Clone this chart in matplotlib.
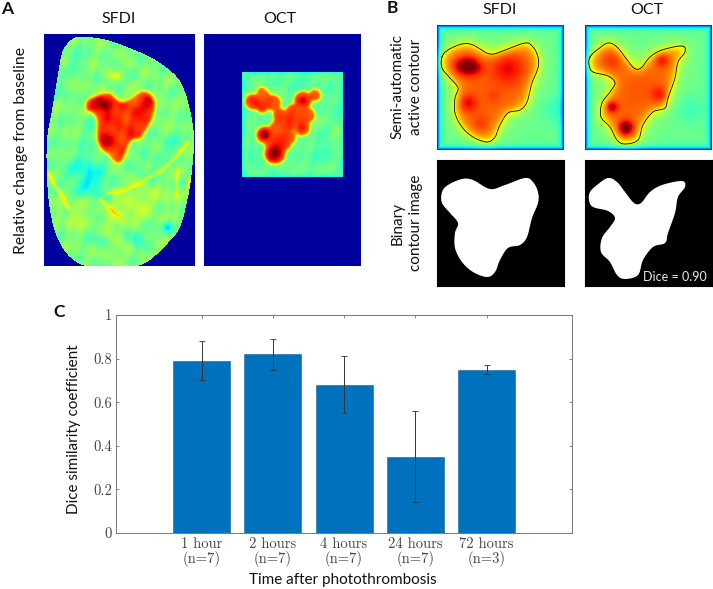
import numpy as np
import matplotlib
matplotlib.use("Agg")
import matplotlib.pyplot as plt
from matplotlib.path import Path

plt.rcParams['font.family'] = ['Lato', 'DejaVu Sans']

W, H = 713, 589

# bar chart values
times = ['1 hour\n(n=7)', '2 hours\n(n=7)', '4 hours\n(n=7)', '24 hours\n(n=7)', '72 hours\n(n=3)']
dice = [0.79, 0.82, 0.68, 0.35, 0.75]
err_low = [0.70, 0.75, 0.55, 0.14, 0.73]
err_high = [0.88, 0.89, 0.81, 0.56, 0.77]
y_ticks = [0, 0.2, 0.4, 0.6, 0.8, 1]

# outlines in figure pixels
sfdi_tissue = [(78, 37), (103, 39), (127, 47), (152, 58), (173, 73), (183, 87), (190, 110), (194, 137),
               (192, 170), (188, 197), (180, 227), (168, 243), (147, 262), (128, 267), (90, 267), (70, 257),
               (57, 237), (50, 210), (47, 177), (47, 140), (52, 110), (57, 80), (62, 53), (68, 43)]
sfdi_lesion = [(87, 100), (100, 95), (110, 93), (123, 102), (143, 91), (153, 98), (155, 110), (148, 127),
               (140, 138), (130, 142), (120, 163), (108, 155), (98, 143), (97, 123), (93, 113), (87, 110)]
oct_circles = [(253, 102, 8), (263, 98, 8), (262, 92, 5), (273, 103, 8), (262, 107, 6), (303, 100, 9), (315, 95, 6),
               (293, 112, 8), (307, 115, 8), (302, 128, 8), (283, 123, 10), (265, 135, 9), (275, 153, 11),
               (287, 137, 9), (277, 130, 9), (295, 122, 8), (272, 143, 8), (285, 145, 6), (280, 115, 7)]
contour_sfdi = [(442, 57), (448, 50), (462, 44), (473, 45), (490, 54), (505, 50), (525, 43), (533, 47),
                (538, 57), (538, 68), (532, 83), (527, 102), (520, 110), (508, 113), (500, 125), (495, 137),
                (487, 142), (473, 137), (462, 127), (455, 113), (455, 98), (458, 88), (450, 78), (442, 68)]
contour_oct = [(590, 57), (597, 50), (608, 43), (617, 47), (625, 57), (634, 68), (641, 68), (650, 57),
               (662, 50), (682, 46), (685, 52), (678, 62), (675, 78), (668, 98), (665, 108), (653, 112),
               (643, 125), (638, 140), (625, 144), (617, 140), (610, 127), (601, 117), (602, 103), (610, 92),
               (615, 83), (608, 76), (593, 72), (589, 65)]

# x, y, sigma, amount of the smooth patches in each heat map
sfdi_patches = [(105, 105, 4, 0.16), (98, 102, 5, 0.08), (148, 105, 6, 0.05), (106, 140, 6, 0.07),
                (85, 170, 14, -0.1), (93, 185, 10, -0.08), (135, 237, 7, -0.1), (100, 240, 6, -0.07),
                (110, 75, 3, 0.08), (117, 76, 2, 0.1), (170, 145, 8, -0.06), (75, 60, 8, -0.05),
                (60, 90, 5, -0.06), (168, 227, 4, -0.16), (140, 200, 14, 0.06), (165, 195, 8, 0.03),
                (120, 215, 12, 0.06), (90, 130, 8, -0.04), (150, 170, 12, -0.04), (75, 215, 10, 0.06),
                (115, 245, 10, 0.04)]
sfdi_veins = [[(187, 143), (180, 152), (172, 161), (162, 170), (150, 177), (138, 184), (125, 190), (108, 193)],
              [(48, 172), (55, 186), (62, 195), (68, 208)], [(178, 170), (176, 195)],
              [(190, 178), (188, 185)], [(100, 200), (118, 215)]]
oct_patches = [(255, 102, 4, 0.06), (303, 101, 3, 0.08), (265, 135, 3.5, 0.16), (275, 153, 5, 0.17),
               (302, 128, 3, 0.06), (335, 133, 4, 0.07), (252, 150, 5, -0.04), (320, 150, 9, -0.03),
               (335, 100, 7, -0.02), (300, 80, 8, -0.03)]
b_sfdi_patches = [(469, 66, 6, 0.22), (460, 66, 6, 0.1), (478, 68, 5, 0.06), (508, 68, 11, 0.1), (468, 103, 6, 0.11),
                  (494, 96, 5, 0.03), (480, 124, 6, 0.05), (555, 110, 10, -0.05)]
b_oct_patches = [(612, 60, 8, 0.06), (662, 60, 5, 0.11), (660, 95, 6, 0.1), (612, 107, 4, 0.17), (626, 128, 5, 0.25),
                 (640, 85, 12, 0.01), (690, 110, 10, -0.05)]


def grid(box):
    xs = np.arange(box[0], box[1]) + 0.5
    ys = np.arange(box[2], box[3]) + 0.5
    return np.meshgrid(xs, ys)


def smooth_outline(pts, n=12):
    # closed catmull-rom through the traced points
    pts = np.array(pts, float)
    out = []
    for i in range(len(pts)):
        p0, p1, p2, p3 = pts[i - 1], pts[i], pts[(i + 1) % len(pts)], pts[(i + 2) % len(pts)]
        for t in np.linspace(0, 1, n, endpoint=False):
            out.append(0.5 * (2 * p1 + (p2 - p0) * t + (2 * p0 - 5 * p1 + 4 * p2 - p3) * t ** 2
                              + (3 * p1 - p0 - 3 * p2 + p3) * t ** 3))
    out.append(out[0])
    return np.array(out)


def inside(outline, X, Y):
    pts = np.column_stack([X.ravel(), Y.ravel()])
    return Path(outline).contains_points(pts).reshape(X.shape).astype(float)


def blur(a, s):
    r = int(3 * s) + 1
    k = np.exp(-np.arange(-r, r + 1) ** 2 / (2 * s ** 2))
    k = k / k.sum()
    a = np.pad(a, r, mode='edge')
    a = np.apply_along_axis(lambda m: np.convolve(m, k, mode='same'), 0, a)
    a = np.apply_along_axis(lambda m: np.convolve(m, k, mode='same'), 1, a)
    return a[r:-r, r:-r]


def add_patches(field, X, Y, patches):
    for x, y, s, amt in patches:
        field = field + amt * np.exp(-((X - x) ** 2 + (Y - y) ** 2) / (2 * s ** 2))
    return field


def mottle(X, Y):
    # blotchy look of the tissue maps
    return (0.5 * np.sin(0.21 * X + 0.13 * Y + np.sin(0.07 * Y)) + 0.5 * np.sin(0.09 * X - 0.27 * Y + 2 * np.sin(0.05 * X))
            + 0.4 * np.sin(0.37 * X + 0.17 * Y + 1.5 * np.sin(0.11 * X - 0.06 * Y)))


def vein_field(X, Y, veins):
    f = np.zeros(X.shape)
    for v in veins:
        v = np.array(v, float)
        for a, b in zip(v[:-1], v[1:]):
            for t in np.linspace(0, 1, 8):
                p = a + (b - a) * t
                f = np.maximum(f, np.exp(-((X - p[0]) ** 2 + (Y - p[1]) ** 2) / (2 * 1.5 ** 2)))
    return f


def panel(fig, box):
    # axes whose data units are figure pixels
    ax = fig.add_axes([box[0] / W, 1 - box[3] / H, (box[1] - box[0]) / W, (box[3] - box[2]) / H])
    ax.set_xlim(box[0], box[1])
    ax.set_ylim(box[3], box[2])
    ax.axis('off')
    return ax


def show(ax, field, box):
    ax.imshow(field, cmap='jet', vmin=0, vmax=1, extent=(box[0], box[1], box[3], box[2]),
              interpolation='bilinear', aspect='auto')


def sfdi_a(box):
    X, Y = grid(box)
    f = 0.5 + 0.035 * mottle(X, Y)
    f = add_patches(f, X, Y, sfdi_patches)
    f = f + 0.13 * vein_field(X, Y, sfdi_veins)
    m = inside(smooth_outline(sfdi_lesion), X, Y)
    f = f + 0.3 * blur(m, 1.6) + 0.06 * blur(m, 4)
    tissue = inside(smooth_outline(sfdi_tissue), X, Y)
    return np.where(tissue > 0, np.clip(f, 0.02, 1), 0.03)


def oct_a(box, square):
    X, Y = grid(box)
    f = 0.47 + 0.025 * mottle(X, Y)
    m = np.zeros(X.shape)
    for x, y, r in oct_circles:
        m = np.maximum(m, ((X - x) ** 2 + (Y - y) ** 2 < r ** 2).astype(float))
    f = f + 0.31 * blur(m, 1.4) + 0.06 * blur(m, 4)
    f = add_patches(f, X, Y, oct_patches)
    ok = (X > square[0]) & (X < square[1]) & (Y > square[2]) & (Y < square[3])
    edge = np.minimum.reduce([X - square[0], square[1] - X, Y - square[2], square[3] - Y])
    f = f - 0.1 * np.exp(-np.clip(edge, 0, None) / 1.5)
    return np.where(ok, np.clip(f, 0.02, 1), 0.03)


def heat_b(box, outline, patches):
    X, Y = grid(box)
    m = inside(outline, X, Y)
    f = 0.48 + 0.13 * blur(m, 10) + 0.2 * blur(m, 4)
    f = add_patches(f, X, Y, patches)
    edge = np.minimum.reduce([X - box[0], box[1] - X, Y - box[2], box[3] - Y])
    f = f - 0.38 * np.exp(-edge / 2.5)
    return np.clip(f, 0, 1)


fig = plt.figure(figsize=(W / 100, H / 100), dpi=100)

# panel A
box = (44, 195, 34, 266)
ax = panel(fig, box)
show(ax, sfdi_a(box), box)

box = (204, 361, 34, 266)
ax = panel(fig, box)
show(ax, oct_a(box, (242, 343, 72, 177)), box)

# panel B
line_sfdi = smooth_outline(contour_sfdi)
line_oct = smooth_outline(contour_oct)
for x0, x1, line, patches in [(437, 564, line_sfdi, b_sfdi_patches), (585, 712, line_oct, b_oct_patches)]:
    box = (x0, x1, 25, 150)
    ax = panel(fig, box)
    show(ax, heat_b(box, line, patches), box)
    ax.plot(line[:, 0], line[:, 1], color='black', lw=0.6)

    box = (x0, x1, 160, 286)
    ax = panel(fig, box)
    ax.axis('on')
    ax.set_xticks([])
    ax.set_yticks([])
    ax.set_facecolor('black')
    ax.fill(line[:, 0], line[:, 1] + 135, color='white', lw=0)
    if x0 == 585:
        ax.text(707, 277, 'Dice = 0.90', color='#e8e8e8', fontsize=9, ha='right', va='center')

# panel C
ax = fig.add_axes([116 / W, 1 - 533 / H, 456 / W, 218 / H])
x = np.arange(1, len(dice) + 1)
dice_arr = np.array(dice)
ax.bar(x, dice_arr, width=0.8, color='#0072BD', edgecolor='#1a5f94', linewidth=0.4)
ax.errorbar(x, dice_arr, yerr=[dice_arr - np.array(err_low), np.array(err_high) - dice_arr],
            fmt='none', ecolor='#333333', elinewidth=0.7, capsize=2, capthick=0.6)
ax.set_xlim(-0.2, 6.2)
ax.set_ylim(0, 1)
ax.set_xticks(x)
ax.set_xticklabels(times, family='cmr10', fontsize=10.5, color='#444444', linespacing=1.0)
ax.set_yticks(y_ticks)
ax.set_yticklabels(['0', '0.2', '0.4', '0.6', '0.8', '1'], family='cmr10', fontsize=10.5, color='#444444')
ax.tick_params(direction='in', top=True, right=True, length=2.5, width=0.5, color='#555555', pad=3)
for s in ax.spines.values():
    s.set_linewidth(0.7)
    s.set_color('#777777')

# labels in figure pixels
def label(px, py, s, size=11, **kw):
    fig.text(px / W, 1 - py / H, s, fontsize=size, ha='center', va='center', color='#111111', **kw)


label(7, 9, 'A', 12.5, fontweight='bold')
label(392, 8, 'B', 12.5, fontweight='bold')
label(59, 312, 'C', 12.5, fontweight='bold')
label(119, 19, 'SFDI', 11.5)
label(280, 19, 'OCT', 11.5)
label(500, 10, 'SFDI', 11.5)
label(647, 10, 'OCT', 11.5)
label(21, 151, 'Relative change from baseline', 11.3, rotation=90)
label(407, 87, 'Semi-automatic\nactive contour', 11, rotation=90, linespacing=1.45)
label(407, 223, 'Binary\ncontour image', 11, rotation=90, linespacing=1.45)
label(74, 429, 'Dice similarity coefficient', 11, rotation=90)
label(343, 580, 'Time after photothrombosis', 11)

fig.savefig('out.png', dpi=100)
